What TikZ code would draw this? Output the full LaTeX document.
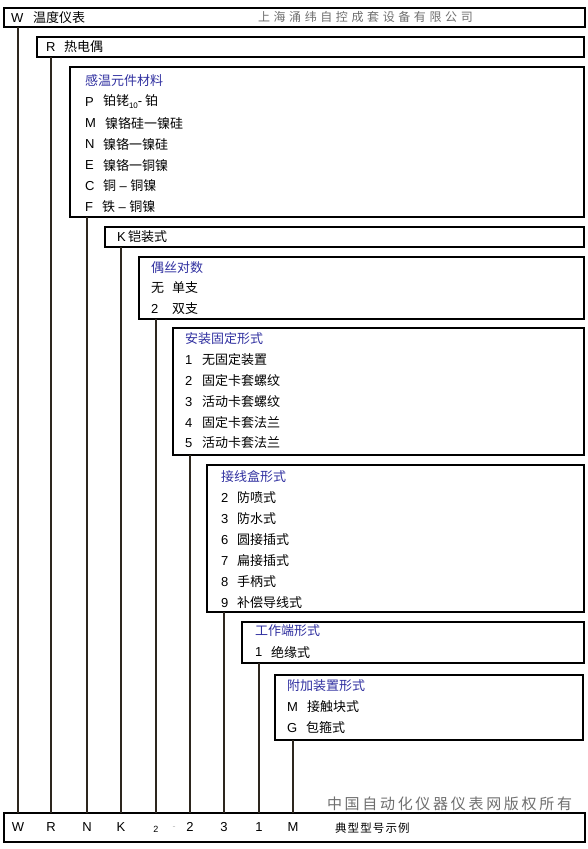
\documentclass[tikz,border=0pt]{standalone}
\usepackage{fontspec}
\setmainfont{Liberation Sans}
\newfontfamily\cjk{Noto Sans CJK SC}
\newfontfamily\cjkwide[LetterSpace=30]{Noto Sans CJK SC}
\newfontfamily\cjkcopy[LetterSpace=18]{Noto Sans CJK SC}
\newfontfamily\cjkmid[LetterSpace=10]{Noto Sans CJK SC}
\usetikzlibrary{positioning,calc}
\definecolor{titleblue}{RGB}{48,48,160}
\definecolor{linebrown}{RGB}{45,38,30}
\definecolor{stampgray}{RGB}{110,110,110}

\begin{document}
\begin{tikzpicture}[x=1pt,y=-1pt,
    every node/.style={inner sep=0pt,outer sep=0pt},
    box/.style={draw=black,line width=1.6pt,rectangle,anchor=north west},
    lat/.style={anchor=west,font=\fontsize{13}{15}\selectfont},
    zh/.style={anchor=west,font=\fontsize{13}{15}\selectfont\cjk},
    ttl/.style={zh,text=titleblue},
    code/.style={font=\fontsize{13}{15}\selectfont},
    link/.style={draw=linebrown,line width=1.1pt}]
			\useasboundingbox (0,0) rectangle (588,849);

			% boxes
			\node[box,minimum width=581,minimum height=19] (wbox) at (4,8) {};
			\node[box,minimum width=547,minimum height=20] (rbox) at (37,37) {};
			\node[box,minimum width=514,minimum height=150] (matbox) at (70,67) {};
			\node[box,minimum width=479,minimum height=20] (kbox) at (105,227) {};
			\node[box,minimum width=445,minimum height=62] (pairbox) at (139,257) {};
			\node[box,minimum width=411,minimum height=127] (mntbox) at (173,328) {};
			\node[box,minimum width=377,minimum height=147] (jbox) at (207,465) {};
			\node[box,minimum width=342,minimum height=41] (workbox) at (242,622) {};
			\node[box,minimum width=308,minimum height=65] (extbox) at (275,675) {};
			\node[box,minimum width=581,minimum height=29] (codebox) at (4,813) {};

			% W / R / K
			\node[lat] (w) at (11,18) {W};
			\node[zh] (wt) at (33,18) {温度仪表};
			\node[anchor=west,text=stampgray,font=\fontsize{12}{14}\selectfont\cjkwide] (firm) at (258,17) {上海涌纬自控成套设备有限公司};
			\node[lat] (r) at (46,47) {R};
			\node[zh] (rt) at (64,47) {热电偶};
			\node[lat] (k) at (117,237) {K};
			\node[zh] (kt) at (128,237) {铠装式};

			% material
			\node[ttl] (m0) at (85,81) {感温元件材料};
			\node[lat] (m1) at (85,102) {P};
			\node[zh] (m1t) at (103,102) {铂铑\raisebox{-3pt}{\fontsize{8}{9}\selectfont\rmfamily 10}{\rmfamily -} 铂};
			\node[lat] (m2) at (85,123) {M};
			\node[zh] (m2t) at (105,123) {镍铬硅一镍硅};
			\node[lat] (m3) at (85,144) {N};
			\node[zh] (m3t) at (103,144) {镍铬一镍硅};
			\node[lat] (m4) at (85,165) {E};
			\node[zh] (m4t) at (103,165) {镍铬一铜镍};
			\node[lat] (m5) at (85,186) {C};
			\node[zh] (m5t) at (103,186) {铜{\rmfamily\ \textendash\ }铜镍};
			\node[lat] (m6) at (85,207) {F};
			\node[zh] (m6t) at (102,207) {铁{\rmfamily\ \textendash\ }铜镍};

			% pairs
			\node[ttl] (p0) at (151,268) {偶丝对数};
			\node[zh] (p1) at (151,288) {无};
			\node[zh] (p1t) at (172,288) {单支};
			\node[lat] (p2) at (151,309) {2};
			\node[zh] (p2t) at (172,309) {双支};

			% mounting
			\node[ttl] (s0) at (185,339) {安装固定形式};
			\node[lat] (s1) at (185,360) {1};
			\node[zh] (s1t) at (202,360) {无固定装置};
			\node[lat] (s2) at (185,381) {2};
			\node[zh] (s2t) at (202,381) {固定卡套螺纹};
			\node[lat] (s3) at (185,402) {3};
			\node[zh] (s3t) at (202,402) {活动卡套螺纹};
			\node[lat] (s4) at (185,423) {4};
			\node[zh] (s4t) at (202,423) {固定卡套法兰};
			\node[lat] (s5) at (185,443) {5};
			\node[zh] (s5t) at (202,443) {活动卡套法兰};

			% junction box
			\node[ttl] (j0) at (221,477) {接线盒形式};
			\node[lat] (j1) at (221,498) {2};
			\node[zh] (j1t) at (237,498) {防喷式};
			\node[lat] (j2) at (221,519) {3};
			\node[zh] (j2t) at (237,519) {防水式};
			\node[lat] (j3) at (221,540) {6};
			\node[zh] (j3t) at (237,540) {圆接插式};
			\node[lat] (j4) at (221,561) {7};
			\node[zh] (j4t) at (237,561) {扁接插式};
			\node[lat] (j5) at (221,582) {8};
			\node[zh] (j5t) at (237,582) {手柄式};
			\node[lat] (j6) at (221,603) {9};
			\node[zh] (j6t) at (237,603) {补偿导线式};

			% working end
			\node[ttl] (e0) at (255,631) {工作端形式};
			\node[lat] (e1) at (255,652) {1};
			\node[zh] (e1t) at (271,652) {绝缘式};

			% extra
			\node[ttl] (x0) at (287,686) {附加装置形式};
			\node[lat] (x1) at (287,707) {M};
			\node[zh] (x1t) at (307,707) {接触块式};
			\node[lat] (x2) at (287,728) {G};
			\node[zh] (x2t) at (306,728) {包箍式};

			% code line
			\node[code] (cW) at (18,827) {W};
			\node[code] (cR) at (51,827) {R};
			\node[code] (cN) at (87,827) {N};
			\node[code] (cK) at (121,827) {K};
			\node[font=\fontsize{9}{10}\selectfont] (cP) at (156,829) {2};
			\node[text=stampgray!50,font=\fontsize{9}{10}\selectfont] (cD) at (174,828) {-};
			\node[code] (cS) at (190,827) {2};
			\node[code] (cJ) at (224,827) {3};
			\node[code] (cE) at (259,827) {1};
			\node[code] (cX) at (293,827) {M};
			\node[anchor=west,font=\fontsize{11.5}{14}\selectfont\cjkmid] (ex) at (335,828) {典型型号示例};
			\node[anchor=west,text=stampgray,font=\fontsize{15}{17}\selectfont\cjkcopy] (copy) at (327,804) {中国自动化仪器仪表网版权所有};

			% connectors
			\draw[link] (cW |- wbox.south) -- (cW |- codebox.north);
			\draw[link] (cR |- rbox.south) -- (cR |- codebox.north);
			\draw[link] (cN |- matbox.south) -- (cN |- codebox.north);
			\draw[link] (cK |- kbox.south) -- (cK |- codebox.north);
			\draw[link] (cP |- pairbox.south) -- (cP |- codebox.north);
			\draw[link] (cS |- mntbox.south) -- (cS |- codebox.north);
			\draw[link] (cJ |- jbox.south) -- (cJ |- codebox.north);
			\draw[link] (cE |- workbox.south) -- (cE |- codebox.north);
			\draw[link] (cX |- extbox.south) -- (cX |- codebox.north);
		\end{tikzpicture}
\end{document}
